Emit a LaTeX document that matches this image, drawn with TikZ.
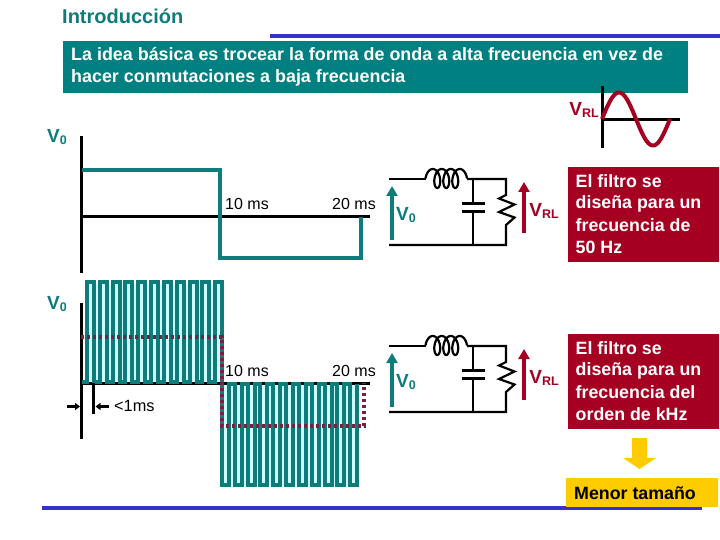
\documentclass[tikz,border=0pt]{standalone}
\usepackage{fontspec}
\setmainfont{Liberation Sans}
\usetikzlibrary{arrows.meta}
\definecolor{tealc}{HTML}{0E7C7B}
\definecolor{boxteal}{HTML}{008080}
\definecolor{marc}{HTML}{A50021}
\definecolor{dashc}{HTML}{7A1F3D}
\definecolor{bluec}{HTML}{3333CC}
\definecolor{yelc}{HTML}{FFCC00}
\definecolor{gapc}{HTML}{CCFFFF}
\newcommand{\vlab}[2]{\textbf{V}{\fontsize{#2}{#2}\selectfont\raisebox{-0.2em}{\textbf{#1}}}}
\tikzset{
  axisline/.style={black,line width=3pt},
  wave/.style={tealc,line width=4pt,miter limit=10},
  pwm/.style={tealc,line width=4pt,miter limit=10},
  dotwave/.style={dashc,line width=4pt,dash pattern=on 3.3pt off 2.7pt},
  wire/.style={black,line width=2.2pt},
  vzero/.style={text=tealc,font=\fontsize{19}{19}\selectfont,inner sep=0pt},
  vrl/.style={text=marc,font=\fontsize{19}{19}\selectfont,inner sep=0pt},
  tlabel/.style={text=black,font=\fontsize{16}{16}\selectfont,inner sep=0pt},
  redbox/.style={fill=marc,minimum width=151pt,minimum height=95pt,inner sep=0pt},
  redtext/.style={text=white,align=left,inner sep=0pt,font=\fontsize{17.8}{22}\selectfont\bfseries},
  uparrowT/.style={tealc,line width=3.5pt,-{Triangle[length=10pt,width=11pt]}},
  uparrowR/.style={marc,line width=3.5pt,-{Triangle[length=10pt,width=11pt]}},
  tick/.style={black,line width=2.5pt,-{Triangle[length=5pt,width=7pt]}},
}
\begin{document}
\begin{tikzpicture}[x=1pt,y=-1pt]
\useasboundingbox[fill=white] (0,0) rectangle (720,540);
% header
\node[anchor=west,inner sep=0pt,text=tealc,font=\fontsize{20}{20}\selectfont\bfseries] (title) at (62,16) {Introducción};
\draw[bluec,line width=3.5pt] (270,36) -- (720,36);
\node[anchor=north west,fill=boxteal,minimum width=625pt,minimum height=52pt,inner sep=0pt] (head) at (63,41) {};
\node[anchor=west,text=white,align=left,inner sep=0pt,font=\fontsize{17.9}{22}\selectfont\bfseries] (headtxt) at (71,67)
  {La idea básica es trocear la forma de onda a alta frecuencia en vez de\\hacer conmutaciones a baja frecuencia};
% sine
\draw[axisline] (602,86) -- (602,148);
\draw[axisline] (602,120) -- (680,120);
\draw[marc,line width=4pt,domain=0:360,samples=60,smooth] plot ({602+\x/360*68},{119-sin(\x)*26.5});
\node[vrl] (vrltop) at (584,110) {\vlab{RL}{12.5}};
% upper plot
\node[vzero] (v0a) at (57,137) {\vlab{0}{12.5}};
\draw[axisline] (81.7,136) -- (81.7,273);
\draw[axisline] (81,217) -- (370,217);
\draw[wave] (82,170) -- (220,170) -- (220,258) -- (361,258) -- (361,217);
\node[tlabel] (t10a) at (247,204) {10 ms};
\node[tlabel] (t20a) at (354,203.5) {20 ms};
% lower plot
\node[vzero] (v0b) at (57,304) {\vlab{0}{12.5}};
\fill[gapc] (87,284) rectangle (222,382);
\fill[gapc] (222,384) rectangle (357,485);
\draw[axisline] (81.7,303) -- (81.7,439);
\draw[axisline] (81,383) -- (370,383);
\draw[pwm] (82,382) -- (87,382)
  foreach \k in {0,...,9} { -- ++(0,-100) -- ++(7,0) -- ++(0,100) -- ++(5.83,0) }
  -- ++(0,-100) -- ++(7,0) -- ++(0,100);
\draw[pwm] (222,382) -- (222,485) -- (229,485) -- (229,384)
  foreach \k in {1,...,10} { -- ++(5.83,0) -- ++(0,101) -- ++(7,0) -- ++(0,-101) };
\draw[dotwave] (81,337) -- (222,337) -- (222,426) -- (364,426) -- (364,383);
\node[tlabel] (t10b) at (247,371) {10 ms};
\node[tlabel] (t20b) at (354,370.5) {20 ms};
\draw[black,line width=3pt] (93.3,383) -- (93.3,414);
\coordinate (al) at (67,406.5);
\coordinate (ar) at (80,406.5);
\coordinate (bl) at (109,406.5);
\coordinate (br) at (95.5,406.5);
\draw[tick] (al) -- (ar);
\draw[tick] (bl) -- (br);
\node[anchor=west,inner sep=0pt,font=\fontsize{16.3}{16.3}\selectfont] (lt1) at (114,406) {<1ms};
% circuits
\foreach \dy/\nm in {0/a,167/b}{
\begin{scope}[shift={(0,\dy)}]
  \draw[wire] (389,179) -- (426,179);
  \draw[wire,domain=-90:1170,samples=160,smooth] plot ({432.75+9*\x/360+5*sin(\x)},{178.5-9.5*cos(\x)});
  \draw[wire] (467,179) -- (506,179) -- (506,195) -- (499,198.5) -- (514.5,204.5) -- (499,212) -- (514.5,217.5) -- (506,225) -- (506,245) -- (389,245);
  \draw[wire] (473.3,179) -- (473.3,203.5);
  \draw[wire] (473.3,211.5) -- (473.3,245);
  \draw[wire] (462,203.5) -- (485,203.5);
  \draw[wire] (462,211.5) -- (485,211.5);
  \draw[uparrowT] (392,240) -- (392,186);
  \draw[uparrowR] (524,233) -- (524,182);
  \node[vzero] (vc\nm) at (406,215) {\vlab{0}{12.5}};
  \node[vrl] (vr\nm) at (544,211) {\vlab{RL}{12.5}};
\end{scope}}
% red boxes
\node[redbox,anchor=north west] (r1) at (568,167) {};
\node[redtext,anchor=west] (r1a) at (575.5,181) {El filtro se};
\node[redtext,anchor=west] (r1b) at (575.5,203.5) {diseña para un};
\node[redtext,anchor=west] (r1c) at (575.5,225.5) {frecuencia de};
\node[redtext,anchor=west] (r1d) at (575.5,247) {50 Hz};
\node[redbox,anchor=north west] (r2) at (568,333.5) {};
\node[redtext,anchor=west] (r2a) at (575.5,348) {El filtro se};
\node[redtext,anchor=west] (r2b) at (575.5,370.5) {diseña para un};
\node[redtext,anchor=west] (r2c) at (575.5,392) {frecuencia del};
\node[redtext,anchor=west] (r2d) at (575.5,414) {orden de kHz};
% bottom
\draw[bluec,line width=3.5pt] (42,508) -- (702,508);
\fill[yelc] (632,438) -- (647,438) -- (647,458) -- (656,458) -- (639.5,469) -- (623,458) -- (632,458) -- cycle;
\node[anchor=north west,fill=yelc,minimum width=152pt,minimum height=29pt,inner sep=0pt] (mbox) at (566,478) {};
\node[inner sep=0pt,font=\fontsize{17.8}{17.8}\selectfont\bfseries,anchor=west] (mt) at (574,493.5) {Menor tamaño};
\end{tikzpicture}
\end{document}
